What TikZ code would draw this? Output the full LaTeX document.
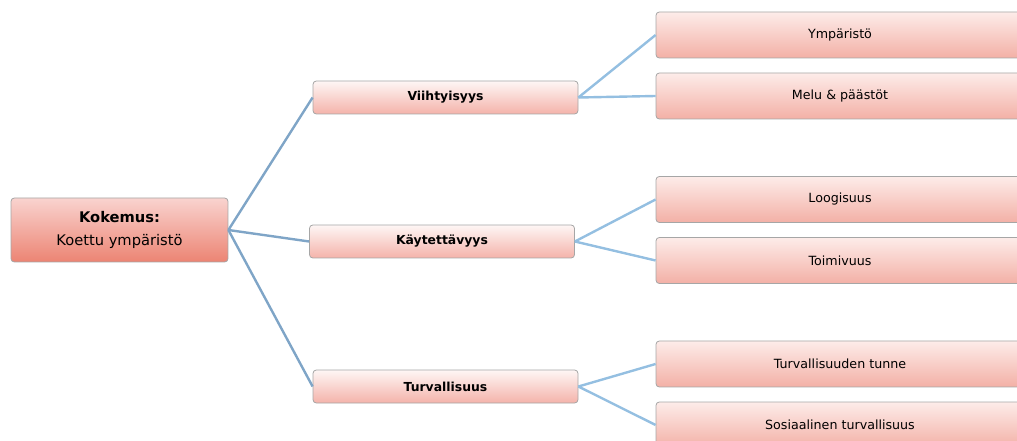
\documentclass[tikz,border=0pt]{standalone}
\usepackage{fontspec}
\setmainfont{DejaVu Sans}
\begin{document}
\begin{tikzpicture}[x=0.75pt,y=-0.75pt,
  box/.style={draw=gray!70, rounded corners=2.5pt, line width=0.6pt, inner sep=0pt, align=center},
  rootbox/.style={box, top color=rootTop, bottom color=rootBot, minimum width=162.75pt, minimum height=48pt, font=\fontsize{11}{17}\selectfont},
  midbox/.style={box, top color=midTop, bottom color=midBot, minimum width=198.75pt, minimum height=24.75pt, font=\bfseries\fontsize{9.3}{11}\selectfont},
  leafbox/.style={box, top color=leafTop, bottom color=leafBot, minimum width=276pt, minimum height=34.5pt, font=\fontsize{9.5}{11}\selectfont},
  trunk/.style={draw=trunkBlue, line width=1.8pt},
  twig/.style={draw=twigBlue, line width=1.8pt}]
\definecolor{rootTop}{HTML}{F9D3CF}
\definecolor{rootBot}{HTML}{EC8473}
\definecolor{midTop}{HTML}{FEF6F5}
\definecolor{midBot}{HTML}{F4B3AA}
\definecolor{leafTop}{HTML}{FDECE9}
\definecolor{leafBot}{HTML}{F3B0A6}
\definecolor{trunkBlue}{HTML}{7FA5C7}
\definecolor{twigBlue}{HTML}{94BFE1}
\useasboundingbox (0,0) rectangle (1017,441);
\clip (0,0) rectangle (1017,441);

% nodes
\node[rootbox] (root) at (119.5,230) {\textbf{Kokemus:}\\Koettu ympäristö};
\node[midbox] (viih) at (445.5,97.5) {Viihtyisyys};
\node[midbox] (kayt) at (442,241.5) {Käytettävyys};
\node[midbox] (turv) at (445.5,386.5) {Turvallisuus};
\node[leafbox] (ymp)  at (840,35)    {Ympäristö};
\node[leafbox] (melu) at (840,96)    {Melu \& päästöt};
\node[leafbox] (loog) at (840,199.5) {Loogisuus};
\node[leafbox] (toim) at (840,260.5) {Toimivuus};
\node[leafbox] (ttun) at (840,364)   {Turvallisuuden tunne};
\node[leafbox] (sosi) at (840,425)   {Sosiaalinen turvallisuus};

% connectors
\draw[trunk] (root.east) -- (viih.west);
\draw[trunk] (root.east) -- (kayt.west);
\draw[trunk] (root.east) -- (turv.west);
\draw[twig] (viih.east) -- (ymp.west);
\draw[twig] (viih.east) -- (melu.west);
\draw[twig] (kayt.east) -- (loog.west);
\draw[twig] (kayt.east) -- (toim.west);
\draw[twig] (turv.east) -- (ttun.west);
\draw[twig] (turv.east) -- (sosi.west);
\end{tikzpicture}
\end{document}
